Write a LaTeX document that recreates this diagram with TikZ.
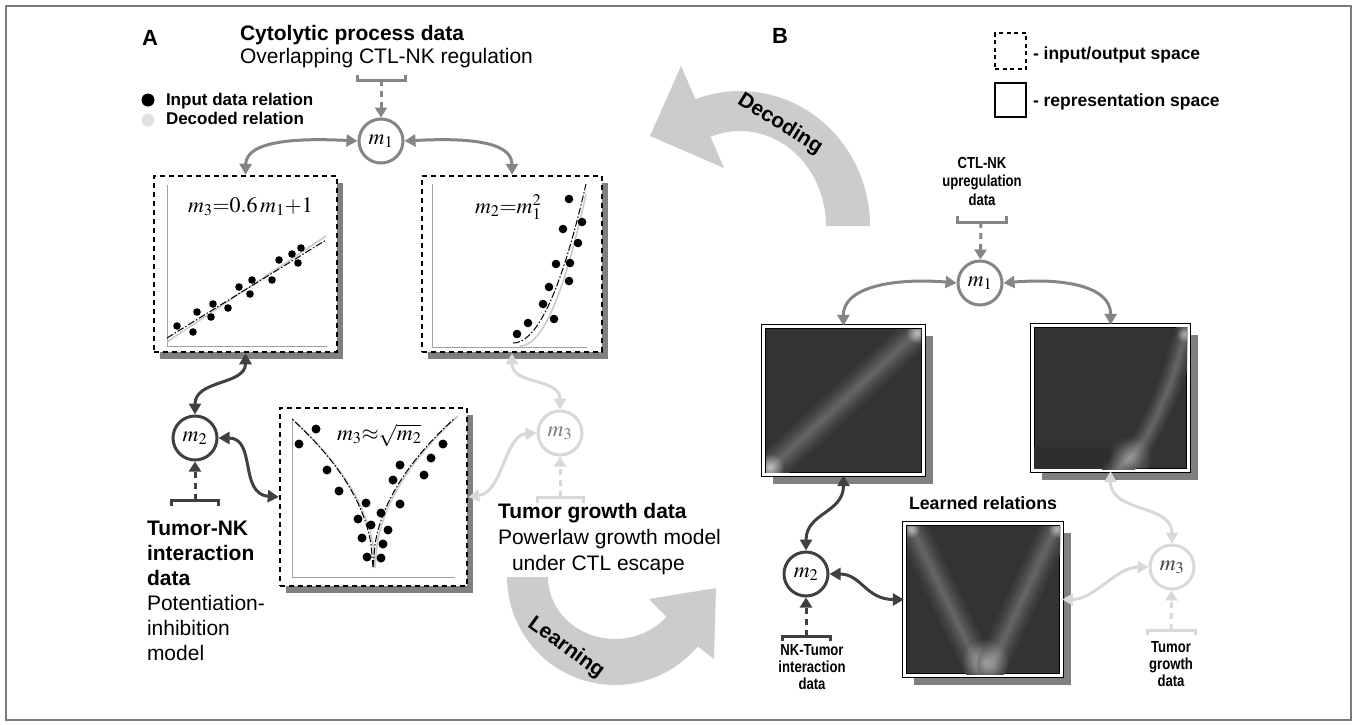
\documentclass[tikz,border=0pt]{standalone}
\usepackage{mathptmx}
\usepackage[no-math]{fontspec}
\setmainfont{Liberation Sans}
\newfontfamily\narrowsf[FakeStretch=0.82]{Liberation Sans}
\usetikzlibrary{arrows.meta,shadows,fadings}
\definecolor{midg}{HTML}{858585}
\definecolor{darkg}{HTML}{404040}
\definecolor{lightg}{HTML}{D8D8D8}
\definecolor{bigarr}{HTML}{CCCCCC}
\definecolor{repfill}{HTML}{333333}
\definecolor{shad}{HTML}{808080}
\definecolor{axisg}{HTML}{A0A0A0}
\definecolor{decg}{HTML}{CBCBCB}
\definecolor{framec}{HTML}{7A7A7A}
\definecolor{lighttxt}{HTML}{7A7A7A}
\tikzfading[name=glowfade, inner color=transparent!0, outer color=transparent!100]
\newcommand\glowband[2]{%
  \foreach \bw/\bc in {34/4,26/8,19/13,12/18,6/23}{\draw[line width={(#2)*(\bw)*1pt}, color=white!\bc!repfill, line cap=round] #1;}}
\newcommand\glowspot[3]{\fill[white, opacity=#3, path fading=glowfade, fit fading=true] #1 circle[radius=#2pt];}
\begin{document}
\begin{tikzpicture}[x=1pt,y=-1pt,
  txt/.style={inner sep=0pt, outer sep=0pt, anchor=base west},
  iobox/.style={draw=black, fill=white, line width=2.5pt, dash pattern=on 5pt off 4pt, drop shadow={shadow xshift=6pt, shadow yshift=-7pt, opacity=1, fill=shad}},
  repbox/.style={draw=black, double=white, double distance=2.5pt, line width=1.4pt, fill=repfill, drop shadow={shadow xshift=9pt, shadow yshift=-9pt, opacity=1, fill=shad}},
  var/.style={circle, draw=#1, line width=3pt, fill=white, minimum size=44pt, inner sep=0pt, font=\fontsize{22}{22}\selectfont},
  link/.style={draw=#1, line width=3pt, >={Triangle[length=11pt,width=12pt]}, <->},
  feed/.style={draw=#1, line width=3pt, dash pattern=on 6pt off 5pt, -{Triangle[length=10pt,width=12pt]}},
  brk/.style={draw=#1, line width=3pt},
  bigarrow/.style={fill=bigarr},
  dashdot/.style={black, line width=1pt, dash pattern=on 7pt off 2pt on 1.5pt off 2pt},
  decline/.style={decg, line width=1.6pt},
  axis/.style={axisg, line width=1pt},
]
\useasboundingbox (0,0) rectangle (1356,724);
\draw[framec, line width=1.2pt] (6,6) rectangle (1351,720);

% big arrows
\fill[bigarrow] plot[domain=0:-110, samples=40] ({740+130*cos(\x)},{226+135*sin(\x)}) -- (681,66) -- (650,136) -- (724,168) -- plot[domain=-110:0, samples=40] ({740+86*cos(\x)},{226+95*sin(\x)}) -- cycle;
\node[inner sep=0pt, rotate=-32, font=\fontsize{21}{21}\selectfont\bfseries] (dec) at (780,124) {Decoding};
\fill[bigarrow] plot[domain=180:40, samples=40] ({615+108*cos(\x)},{577+108*sin(\x)}) -- (714,659) -- (716,588) -- (649,599) -- plot[domain=40:180, samples=40] ({615+67*cos(\x)},{577+62*sin(\x)}) -- cycle;
\node[inner sep=0pt, rotate=-36, font=\fontsize{21}{21}\selectfont\bfseries] (learn) at (566,648) {Learning};

% ---------- panel A ----------
\node[txt, font=\fontsize{22}{22}\selectfont\bfseries] (labA) at (142,45) {A};
\node[txt, align=left, font=\fontsize{21}{23}\selectfont] (cyto) at (240,63) {\textbf{Cytolytic process data}\\Overlapping CTL-NK regulation};
\fill (148,100) circle[radius=6.5pt];
\fill[lightg!80] (148,120) circle[radius=6.5pt];
\node[txt, font=\fontsize{17}{17}\selectfont\bfseries] (legIn) at (166,105) {Input data relation};
\node[txt, font=\fontsize{17}{17}\selectfont\bfseries] (legDec) at (166,124) {Decoded relation};

\node[iobox, minimum width=183pt, minimum height=176pt] (A1) at (245.5,264) {};
\node[iobox, minimum width=180pt, minimum height=176pt] (A2) at (512,264) {};
\node[iobox, minimum width=187pt, minimum height=178pt] (A3) at (373.5,497) {};

\draw[axis] (167,185) -- (167,346) -- (327,346);
\draw[axis] (432,184) -- (432,347) -- (587,347);
\draw[axis] (292,418) -- (292,577) -- (455,577);

\draw[decline] (167,342) -- (326,236);
\draw[dashdot] (167,338) -- (326,240);
\draw[decline] plot[domain=0:1, samples=30] ({520+66*\x},{346-152*\x*\x});
\draw[dashdot] plot[domain=0:1, samples=30] ({513+73*\x},{343-159*\x*\x});
\draw[decline] plot[domain=0:1, samples=40] ({375-80*\x},{568-146*sqrt(\x)});
\draw[decline] plot[domain=0:1, samples=40] ({375+83*\x},{568-152*sqrt(\x)});
\draw[dashdot] plot[domain=0:1, samples=40] ({373-81*\x},{567-148*sqrt(\x)});
\draw[dashdot] plot[domain=0:1, samples=40] ({373+82*\x},{567-149*sqrt(\x)});

\foreach \p in {(177,326),(193,332),(197,312),(211,317),(213,304),(228,308),(239,287),(250,294),(252,280),(272,280),(279,260),(292,254),(298,263),(301,248)} \fill \p circle[radius=3.8pt];
\foreach \p in {(517,334),(528,323),(543,304),(554,319),(549,287),(556,264),(569,281),(570,263),(578,243),(563,229),(582,222),(569,199)} \fill \p circle[radius=4.3pt];
\foreach \p in {(299,444),(316,429),(327,470),(339,491),(366,503),(358,519),(371,525),(381,513),(388,530),(362,538),(383,544),(367,557),(381,558),(400,465),(393,480),(400,504),(424,475),(431,458),(443,444)} \fill \p circle[radius=4.5pt];

\node[txt, font=\fontsize{22}{22}\selectfont] (eqA1) at (188,212) {$m_3{=}0.6\,m_1{+}1$};
\node[txt, font=\fontsize{22}{22}\selectfont] (eqA2) at (475,213) {$m_2{=}m_1^2$};
\node[txt, font=\fontsize{22}{22}\selectfont] (eqA3) at (337,440) {$m_3{\approx}\sqrt{m_2}$};

\node[var=midg] (mA1) at (381,141) {$m_1$};
\node[var=darkg] (mA2) at (195,438) {$m_2$};
\node[var=lightg, text=lighttxt] (mA3) at (560,433) {$m_3$};

\draw[brk=midg] (357,75) -- (357,80) -- (405,80) -- (405,75);
\coordinate (brA1) at (381,80);
\draw[feed=midg] (brA1) -- (mA1);
\draw[brk=darkg] (171,506) -- (171,500) -- (218,500) -- (218,506);
\coordinate (brA2) at (195,500);
\draw[feed=darkg] (brA2) -- (mA2);
\draw[brk=lightg] (537,503) -- (537,497) -- (583,497) -- (583,503);
\coordinate (brA3) at (560,497);
\draw[feed=lightg] (brA3) -- (mA3);

\draw[link=midg] (mA1.west) .. controls (300,138) and (246,140) .. (A1.north);
\draw[link=midg] (mA1.east) .. controls (462,138) and (512,140) .. (A2.north);
\draw[link=darkg] (A1.south) .. controls +(0,32) and +(0,-35) .. (mA2.north);
\draw[link=darkg] (mA2.east) .. controls +(38,0) and +(-40,-3) .. (A3.west);
\draw[link=lightg] (A2.south) .. controls +(0,32) and +(0,-32) .. (mA3.north);
\draw[link=lightg] (mA3.west) .. controls +(-32,2) and +(35,-5) .. (A3.east);

\node[txt, align=left, font=\fontsize{21}{25}\selectfont] (tnk) at (147,660) {\textbf{Tumor-NK}\\\textbf{interaction}\\\textbf{data}\\Potentiation-\\inhibition\\model};
\node[txt, align=left, font=\fontsize{21}{26}\selectfont] (tgA) at (498,570) {\textbf{Tumor growth data}\\Powerlaw growth model\\\hspace*{14pt}under CTL escape};

% ---------- panel B ----------
\node[txt, font=\fontsize{22}{22}\selectfont\bfseries] (labB) at (772,43) {B};
\node[draw=black, line width=2.2pt, dash pattern=on 4pt off 3.5pt, minimum width=31pt, minimum height=36pt, inner sep=0pt] (legIO) at (1010.5,51) {};
\node[draw=black, line width=2.5pt, minimum width=31pt, minimum height=34pt, inner sep=0pt] (legRep) at (1010.5,100) {};
\node[txt, font=\fontsize{17.5}{17.5}\selectfont\bfseries] (legIOt) at (1033,59) {- input/output space};
\node[txt, font=\fontsize{17.5}{17.5}\selectfont\bfseries] (legRept) at (1033,106) {- representation space};

\node[repbox, minimum width=160pt, minimum height=148pt] (B1) at (843.5,400.5) {};
\node[repbox, minimum width=156pt, minimum height=145pt] (B2) at (1110.5,398) {};
\node[repbox, minimum width=157pt, minimum height=152pt] (B3) at (983,599.5) {};

\begin{scope}
\clip (766,329) rectangle (921,472);
\glowband{(764,474) -- (923,327)}{0.95}
\glowspot{(770,467)}{14}{0.6}
\glowspot{(917,333)}{11}{0.6}
\end{scope}
\begin{scope}
\clip (1034,327) rectangle (1187,469);
\fill[repfill!90!black] (1034,447) rectangle (1113,469);
\glowband{plot[smooth] coordinates {(1113,474) (1143,442) (1167,392) (1182,347) (1189,325)}}{0.7}
\glowspot{(1130,458)}{22}{0.35}
\glowspot{(1184,334)}{8}{0.5}
\end{scope}
\begin{scope}
\clip (907,526) rectangle (1060,674);
\glowband{(908,520) -- (978,665)}{0.9}
\glowband{(1059,520) -- (992,665)}{0.9}
\glowspot{(985,662)}{24}{0.45}
\glowspot{(911,529)}{9}{0.55}
\glowspot{(1057,529)}{9}{0.55}
\end{scope}

\node[font=\fontsize{17.75}{17.75}\selectfont\bfseries, inner sep=0pt, anchor=base] (learned) at (983,509) {Learned relations};

\node[var=midg] (mB1) at (980,283) {$m_1$};
\node[var=darkg] (mB2) at (806,574) {$m_2$};
\node[var=lightg, text=darkg] (mB3) at (1172,567) {$m_3$};

\node[inner sep=0pt, align=center, anchor=base, font=\narrowsf\bfseries\fontsize{16}{18.5}\selectfont] (ctlB) at (982,205) {CTL-NK\\upregulation\\data};
\node[inner sep=0pt, align=center, anchor=base, font=\narrowsf\bfseries\fontsize{16}{17}\selectfont] (nktB) at (812,689) {NK-Tumor\\interaction\\data};
\node[inner sep=0pt, align=center, anchor=base, font=\narrowsf\bfseries\fontsize{16}{17}\selectfont] (tgB) at (1171,686) {Tumor\\growth\\data};

\draw[brk=midg] (957,216) -- (957,222) -- (1006,222) -- (1006,216);
\coordinate (brB1) at (981,222);
\draw[feed=midg] (brB1) -- (mB1);
\draw[brk=darkg] (782,641) -- (782,636) -- (830,636) -- (830,641);
\coordinate (brB2) at (806,636);
\draw[feed=darkg] (brB2) -- (mB2);
\draw[brk=lightg] (1147,635) -- (1147,630) -- (1195,630) -- (1195,635);
\coordinate (brB3) at (1171,630);
\draw[feed=lightg] (brB3) -- (mB3);

\draw[link=midg] (mB1.west) .. controls (900,278) and (843,285) .. (B1.north);
\draw[link=midg] (mB1.east) .. controls (1060,278) and (1111,285) .. (B2.north);
\draw[link=darkg] (B1.south) .. controls +(0,38) and +(0,-38) .. (mB2.north);
\draw[link=darkg] (mB2.east) .. controls +(32,0) and +(-38,0) .. (B3.west);
\draw[link=lightg] (B2.south) .. controls +(0,42) and +(0,-40) .. (mB3.north);
\draw[link=lightg] (mB3.west) .. controls +(-32,0) and +(32,0) .. (B3.east);
\end{tikzpicture}
\end{document}
